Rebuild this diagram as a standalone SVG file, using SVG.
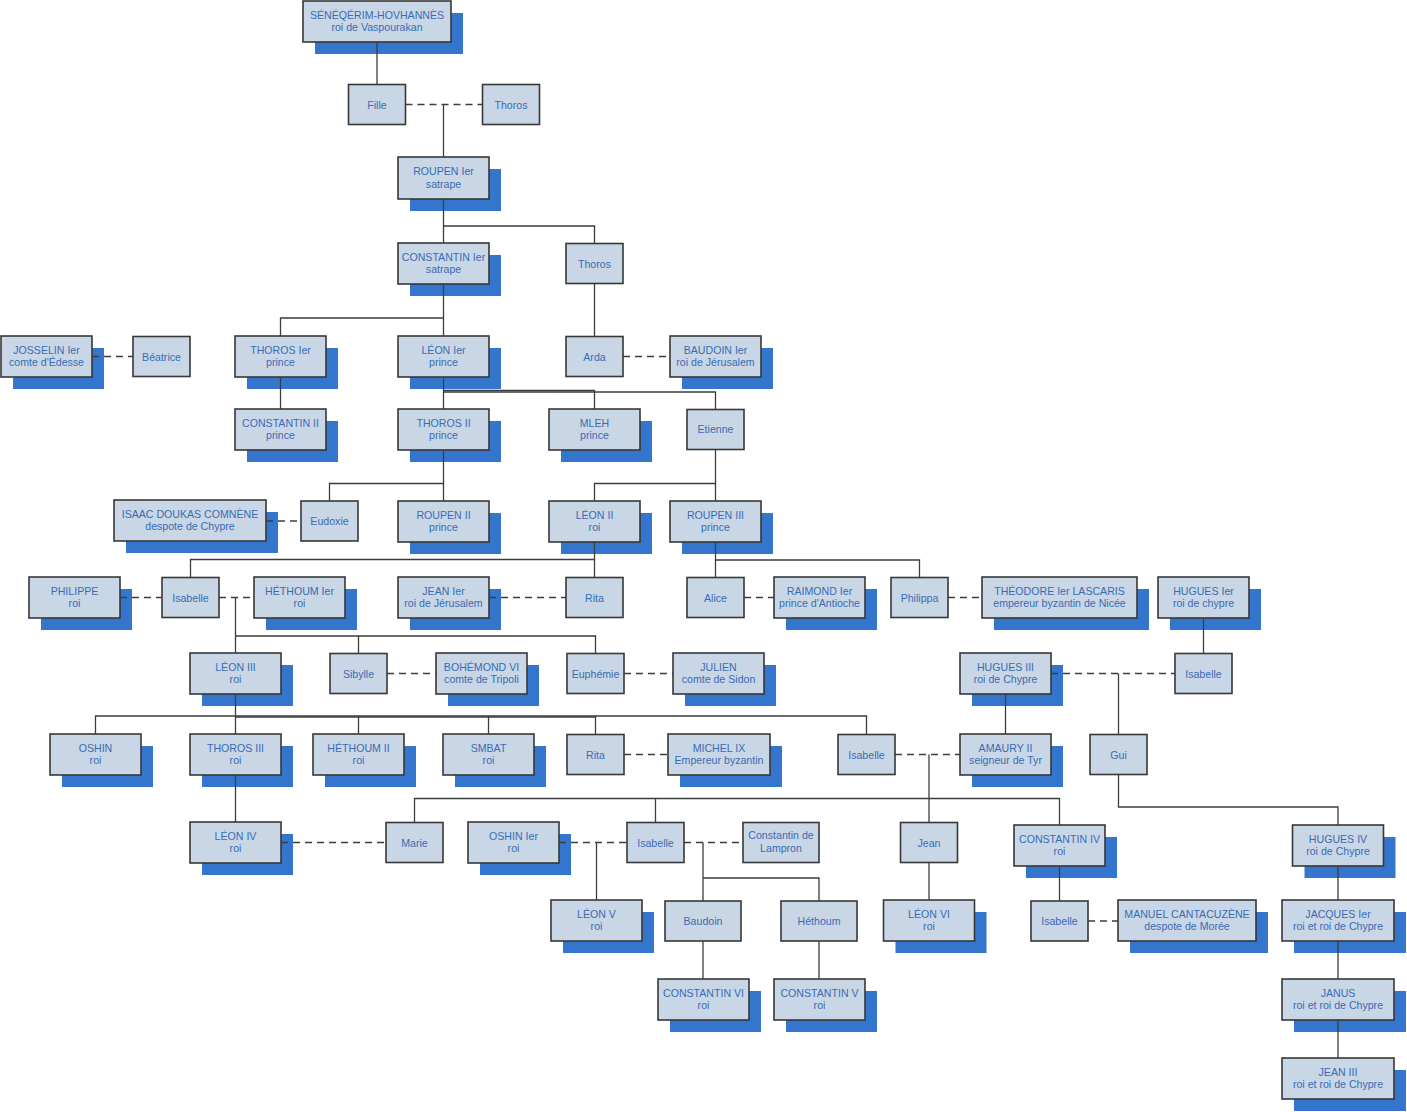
<svg xmlns="http://www.w3.org/2000/svg" width="1407" height="1112" viewBox="0 0 1407 1112">
<style>
.s{fill:#3476cd}
.b{fill:#c8d6e6;stroke:#383838;stroke-width:1.6}
text{font-family:"Liberation Sans",Arial,sans-serif;font-size:10.6px;fill:#3a6cb4;text-anchor:middle}
.c path{fill:none;stroke:#3c3c3c;stroke-width:1.3}
.c .d{stroke-dasharray:7 5}
</style>
<rect width="1407" height="1112" fill="#ffffff"/>
<g id="nodes">
<g id="senekerim"><rect class="s" x="315" y="13" width="148" height="41"/><rect class="b" x="303" y="1" width="148" height="41"/><text x="377" y="18.5">SÉNÉQÉRIM-HOVHANNÈS</text><text x="377" y="31">roi de Vaspourakan</text></g>
<g id="fille"><rect class="b" x="348.5" y="84.5" width="57" height="40"/><text x="377" y="108.5">Fille</text></g>
<g id="thorosA"><rect class="b" x="482.5" y="84.5" width="57" height="40"/><text x="511" y="108.5">Thoros</text></g>
<g id="roupen1"><rect class="s" x="410" y="169" width="91" height="42"/><rect class="b" x="398" y="157" width="91" height="42"/><text x="443.5" y="175">ROUPEN Ier</text><text x="443.5" y="187.5">satrape</text></g>
<g id="constantin1"><rect class="s" x="410" y="255" width="91" height="41"/><rect class="b" x="398" y="243" width="91" height="41"/><text x="443.5" y="260.5">CONSTANTIN Ier</text><text x="443.5" y="273">satrape</text></g>
<g id="thorosB"><rect class="b" x="566" y="243.5" width="57" height="40"/><text x="594.5" y="267.5">Thoros</text></g>
<g id="josselin"><rect class="s" x="13" y="348" width="91" height="41"/><rect class="b" x="1" y="336" width="91" height="41"/><text x="46.5" y="353.5">JOSSELIN Ier</text><text x="46.5" y="366">comte d'Édesse</text></g>
<g id="beatrice"><rect class="b" x="133" y="336.5" width="57" height="40"/><text x="161.5" y="360.5">Béatrice</text></g>
<g id="thoros1"><rect class="s" x="247" y="348" width="91" height="41"/><rect class="b" x="235" y="336" width="91" height="41"/><text x="280.5" y="353.5">THOROS Ier</text><text x="280.5" y="366">prince</text></g>
<g id="leon1"><rect class="s" x="410" y="348" width="91" height="41"/><rect class="b" x="398" y="336" width="91" height="41"/><text x="443.5" y="353.5">LÉON Ier</text><text x="443.5" y="366">prince</text></g>
<g id="arda"><rect class="b" x="566" y="336.5" width="57" height="40"/><text x="594.5" y="360.5">Arda</text></g>
<g id="baudoin1"><rect class="s" x="682" y="348" width="91" height="41"/><rect class="b" x="670" y="336" width="91" height="41"/><text x="715.5" y="353.5">BAUDOIN Ier</text><text x="715.5" y="366">roi de Jérusalem</text></g>
<g id="constantin2"><rect class="s" x="247" y="421" width="91" height="41"/><rect class="b" x="235" y="409" width="91" height="41"/><text x="280.5" y="426.5">CONSTANTIN II</text><text x="280.5" y="439">prince</text></g>
<g id="thoros2"><rect class="s" x="410" y="421" width="91" height="41"/><rect class="b" x="398" y="409" width="91" height="41"/><text x="443.5" y="426.5">THOROS II</text><text x="443.5" y="439">prince</text></g>
<g id="mleh"><rect class="s" x="561" y="421" width="91" height="41"/><rect class="b" x="549" y="409" width="91" height="41"/><text x="594.5" y="426.5">MLEH</text><text x="594.5" y="439">prince</text></g>
<g id="etienne"><rect class="b" x="687" y="409.5" width="57" height="40"/><text x="715.5" y="433">Etienne</text></g>
<g id="isaac"><rect class="s" x="126" y="512" width="152" height="41"/><rect class="b" x="114" y="500" width="152" height="41"/><text x="190" y="517.5">ISAAC DOUKAS COMNÈNE</text><text x="190" y="530">despote de Chypre</text></g>
<g id="eudoxie"><rect class="b" x="301" y="501" width="57" height="40"/><text x="329.5" y="525">Eudoxie</text></g>
<g id="roupen2"><rect class="s" x="410" y="513" width="91" height="41"/><rect class="b" x="398" y="501" width="91" height="41"/><text x="443.5" y="518.5">ROUPEN II</text><text x="443.5" y="531">prince</text></g>
<g id="leon2"><rect class="s" x="561" y="513" width="91" height="41"/><rect class="b" x="549" y="501" width="91" height="41"/><text x="594.5" y="518.5">LÉON II</text><text x="594.5" y="531">roi</text></g>
<g id="roupen3"><rect class="s" x="682" y="513" width="91" height="41"/><rect class="b" x="670" y="501" width="91" height="41"/><text x="715.5" y="518.5">ROUPEN III</text><text x="715.5" y="531">prince</text></g>
<g id="philippe"><rect class="s" x="41" y="589" width="91" height="41"/><rect class="b" x="29" y="577" width="91" height="41"/><text x="74.5" y="594.5">PHILIPPE</text><text x="74.5" y="607">roi</text></g>
<g id="isabelleA"><rect class="b" x="162" y="577.5" width="57" height="40"/><text x="190.5" y="601.5">Isabelle</text></g>
<g id="hethoum1"><rect class="s" x="266" y="589" width="91" height="41"/><rect class="b" x="254" y="577" width="91" height="41"/><text x="299.5" y="594.5">HÉTHOUM Ier</text><text x="299.5" y="607">roi</text></g>
<g id="jean1"><rect class="s" x="410" y="589" width="91" height="41"/><rect class="b" x="398" y="577" width="91" height="41"/><text x="443.5" y="594.5">JEAN Ier</text><text x="443.5" y="607">roi de Jérusalem</text></g>
<g id="ritaA"><rect class="b" x="566" y="577.5" width="57" height="40"/><text x="594.5" y="601.5">Rita</text></g>
<g id="alice"><rect class="b" x="687" y="577.5" width="57" height="40"/><text x="715.5" y="601.5">Alice</text></g>
<g id="raimond"><rect class="s" x="786" y="589" width="91" height="41"/><rect class="b" x="774" y="577" width="91" height="41"/><text x="819.5" y="594.5">RAIMOND Ier</text><text x="819.5" y="607">prince d'Antioche</text></g>
<g id="philippa"><rect class="b" x="891" y="577.5" width="57" height="40"/><text x="919.5" y="601.5">Philippa</text></g>
<g id="theodore"><rect class="s" x="994" y="589" width="155" height="41"/><rect class="b" x="982" y="577" width="155" height="41"/><text x="1059.5" y="594.5">THÉODORE Ier LASCARIS</text><text x="1059.5" y="607">empereur byzantin de Nicée</text></g>
<g id="hugues1"><rect class="s" x="1170" y="589" width="91" height="41"/><rect class="b" x="1158" y="577" width="91" height="41"/><text x="1203.5" y="594.5">HUGUES Ier</text><text x="1203.5" y="607">roi de chypre</text></g>
<g id="leon3"><rect class="s" x="202" y="665" width="91" height="41"/><rect class="b" x="190" y="653" width="91" height="41"/><text x="235.5" y="670.5">LÉON III</text><text x="235.5" y="683">roi</text></g>
<g id="sibylle"><rect class="b" x="330" y="653.5" width="57" height="40"/><text x="358.5" y="677.5">Sibylle</text></g>
<g id="bohemond"><rect class="s" x="448" y="665" width="91" height="41"/><rect class="b" x="436" y="653" width="91" height="41"/><text x="481.5" y="670.5">BOHÉMOND VI</text><text x="481.5" y="683">comte de Tripoli</text></g>
<g id="euphemie"><rect class="b" x="567" y="653.5" width="57" height="40"/><text x="595.5" y="677.5">Euphémie</text></g>
<g id="julien"><rect class="s" x="685" y="665" width="91" height="41"/><rect class="b" x="673" y="653" width="91" height="41"/><text x="718.5" y="670.5">JULIEN</text><text x="718.5" y="683">comte de Sidon</text></g>
<g id="hugues3"><rect class="s" x="972" y="665" width="91" height="41"/><rect class="b" x="960" y="653" width="91" height="41"/><text x="1005.5" y="670.5">HUGUES III</text><text x="1005.5" y="683">roi de Chypre</text></g>
<g id="isabelleB"><rect class="b" x="1175" y="653.5" width="57" height="40"/><text x="1203.5" y="677.5">Isabelle</text></g>
<g id="oshin"><rect class="s" x="62" y="746" width="91" height="41"/><rect class="b" x="50" y="734" width="91" height="41"/><text x="95.5" y="751.5">OSHIN</text><text x="95.5" y="764">roi</text></g>
<g id="thoros3"><rect class="s" x="202" y="746" width="91" height="41"/><rect class="b" x="190" y="734" width="91" height="41"/><text x="235.5" y="751.5">THOROS III</text><text x="235.5" y="764">roi</text></g>
<g id="hethoum2"><rect class="s" x="325" y="746" width="91" height="41"/><rect class="b" x="313" y="734" width="91" height="41"/><text x="358.5" y="751.5">HÉTHOUM II</text><text x="358.5" y="764">roi</text></g>
<g id="smbat"><rect class="s" x="455" y="746" width="91" height="41"/><rect class="b" x="443" y="734" width="91" height="41"/><text x="488.5" y="751.5">SMBAT</text><text x="488.5" y="764">roi</text></g>
<g id="ritaB"><rect class="b" x="567" y="734.5" width="57" height="40"/><text x="595.5" y="758.5">Rita</text></g>
<g id="michel"><rect class="s" x="680" y="746" width="102" height="41"/><rect class="b" x="668" y="734" width="102" height="41"/><text x="719" y="751.5">MICHEL IX</text><text x="719" y="764">Empereur byzantin</text></g>
<g id="isabelleC"><rect class="b" x="838" y="734.5" width="57" height="40"/><text x="866.5" y="758.5">Isabelle</text></g>
<g id="amaury"><rect class="s" x="972" y="746" width="91" height="41"/><rect class="b" x="960" y="734" width="91" height="41"/><text x="1005.5" y="751.5">AMAURY II</text><text x="1005.5" y="764">seigneur de Tyr</text></g>
<g id="gui"><rect class="b" x="1090" y="734.5" width="57" height="40"/><text x="1118.5" y="758.5">Gui</text></g>
<g id="leon4"><rect class="s" x="202" y="834" width="91" height="41"/><rect class="b" x="190" y="822" width="91" height="41"/><text x="235.5" y="839.5">LÉON IV</text><text x="235.5" y="852">roi</text></g>
<g id="marie"><rect class="b" x="386" y="822.5" width="57" height="40"/><text x="414.5" y="846.5">Marie</text></g>
<g id="oshin1"><rect class="s" x="480" y="834" width="91" height="41"/><rect class="b" x="468" y="822" width="91" height="41"/><text x="513.5" y="839.5">OSHIN Ier</text><text x="513.5" y="852">roi</text></g>
<g id="isabelleD"><rect class="b" x="627" y="822.5" width="57" height="40"/><text x="655.5" y="846.5">Isabelle</text></g>
<g id="lampron"><rect class="b" x="743" y="822.5" width="76" height="40"/><text x="781" y="838.5">Constantin de</text><text x="781" y="851.5">Lampron</text></g>
<g id="jean"><rect class="b" x="900.5" y="822.5" width="57" height="40"/><text x="929" y="846.5">Jean</text></g>
<g id="constantin4"><rect class="s" x="1026" y="837" width="91" height="41"/><rect class="b" x="1014" y="825" width="91" height="41"/><text x="1059.5" y="842.5">CONSTANTIN IV</text><text x="1059.5" y="855">roi</text></g>
<g id="hugues4"><rect class="s" x="1304.5" y="837" width="91" height="41"/><rect class="b" x="1292.5" y="825" width="91" height="41"/><text x="1338" y="842.5">HUGUES IV</text><text x="1338" y="855">roi de Chypre</text></g>
<g id="leon5"><rect class="s" x="563" y="912" width="91" height="41"/><rect class="b" x="551" y="900" width="91" height="41"/><text x="596.5" y="917.5">LÉON V</text><text x="596.5" y="930">roi</text></g>
<g id="baudoin"><rect class="b" x="665" y="901" width="76" height="40"/><text x="703" y="925">Baudoin</text></g>
<g id="hethoum"><rect class="b" x="781" y="901" width="76" height="40"/><text x="819" y="925">Héthoum</text></g>
<g id="leon6"><rect class="s" x="895.5" y="912" width="91" height="41"/><rect class="b" x="883.5" y="900" width="91" height="41"/><text x="929" y="917.5">LÉON VI</text><text x="929" y="930">roi</text></g>
<g id="isabelleE"><rect class="b" x="1031" y="901" width="57" height="40"/><text x="1059.5" y="925">Isabelle</text></g>
<g id="manuel"><rect class="s" x="1130" y="912" width="138" height="41"/><rect class="b" x="1118" y="900" width="138" height="41"/><text x="1187" y="917.5">MANUEL CANTACUZÈNE</text><text x="1187" y="930">despote de Morée</text></g>
<g id="jacques"><rect class="s" x="1294" y="912" width="112" height="41"/><rect class="b" x="1282" y="900" width="112" height="41"/><text x="1338" y="917.5">JACQUES Ier</text><text x="1338" y="930">roi et roi de Chypre</text></g>
<g id="constantin6"><rect class="s" x="670" y="991" width="91" height="41"/><rect class="b" x="658" y="979" width="91" height="41"/><text x="703.5" y="996.5">CONSTANTIN VI</text><text x="703.5" y="1009">roi</text></g>
<g id="constantin5"><rect class="s" x="786" y="991" width="91" height="41"/><rect class="b" x="774" y="979" width="91" height="41"/><text x="819.5" y="996.5">CONSTANTIN V</text><text x="819.5" y="1009">roi</text></g>
<g id="janus"><rect class="s" x="1294" y="991" width="112" height="41"/><rect class="b" x="1282" y="979" width="112" height="41"/><text x="1338" y="996.5">JANUS</text><text x="1338" y="1009">roi et roi de Chypre</text></g>
<g id="jean3"><rect class="s" x="1294" y="1070" width="112" height="41"/><rect class="b" x="1282" y="1058" width="112" height="41"/><text x="1338" y="1075.5">JEAN III</text><text x="1338" y="1088">roi et roi de Chypre</text></g>
</g>
<g id="connectors" class="c">
<path d="M377,42V84"/>
<path d="M443.5,104V157"/>
<path d="M443.5,199V243"/>
<path d="M443.5,226H594.5V243.5"/>
<path d="M443.5,284V336"/>
<path d="M443.5,318H280.5V336"/>
<path d="M594.5,283.5V336.5"/>
<path d="M280.5,377V409"/>
<path d="M443.5,377V409"/>
<path d="M443.5,390.5H594.5V409"/>
<path d="M443.5,392H715.5V409.5"/>
<path d="M443.5,450V501"/>
<path d="M443.5,483.5H329.5V501"/>
<path d="M715.5,449.5V501"/>
<path d="M715.5,483.5H594.5V501"/>
<path d="M594.5,542V577.5"/>
<path d="M594.5,559.5H190.5V577.5"/>
<path d="M715.5,542V577.5"/>
<path d="M715.5,560H919.5V577.5"/>
<path d="M235.5,597.5V653"/>
<path d="M235.5,636H595.5V653.5"/>
<path d="M358.5,636V653.5"/>
<path d="M1203.5,618V653.5"/>
<path d="M1118.5,673.5V734.5"/>
<path d="M1005.5,694V734"/>
<path d="M235.5,694V734"/>
<path d="M95.5,734V716H866.5V734.5"/>
<path d="M235.5,717H595.5"/>
<path d="M358.5,716V734"/>
<path d="M488.5,716V734"/>
<path d="M595.5,716V734.5"/>
<path d="M929,754.5V822.5"/>
<path d="M414.5,822.5V798.5H1059.5V825"/>
<path d="M655.5,798.5V822.5"/>
<path d="M1118.5,774.5V807H1338V825"/>
<path d="M235.5,775V822"/>
<path d="M596.5,842.5V900"/>
<path d="M703,842.5V901"/>
<path d="M703,878H819V901"/>
<path d="M929,862.5V900"/>
<path d="M1059.5,866V901"/>
<path d="M1338,866V900"/>
<path d="M1338,941V979"/>
<path d="M1338,1020V1058"/>
<path d="M703,941V979"/>
<path d="M819,941V979"/>
<path class="d" d="M405.5,104.5H482.5"/>
<path class="d" d="M92,356.5H133"/>
<path class="d" d="M623,356.5H670"/>
<path class="d" d="M266,521H301"/>
<path class="d" d="M120,597.5H162"/>
<path class="d" d="M219,597.5H254"/>
<path class="d" d="M489,597.5H566"/>
<path class="d" d="M744,597.5H774"/>
<path class="d" d="M948,597.5H982"/>
<path class="d" d="M387,673.5H436"/>
<path class="d" d="M624,673.5H673"/>
<path class="d" d="M1051,673.5H1175"/>
<path class="d" d="M624,754.5H668"/>
<path class="d" d="M895,754.5H960"/>
<path class="d" d="M281,842.5H386"/>
<path class="d" d="M559,842.5H627"/>
<path class="d" d="M684,842.5H743"/>
<path class="d" d="M1088,921H1118"/>
</g>
</svg>
